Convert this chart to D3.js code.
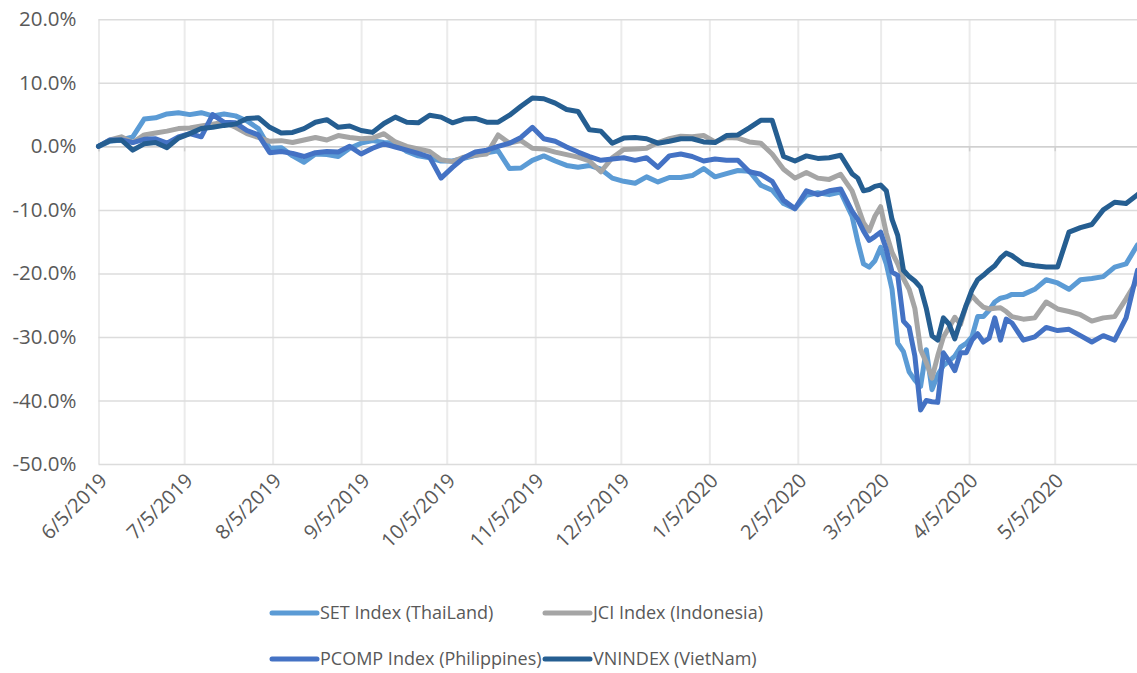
<!DOCTYPE html>
<html>
<head>
<meta charset="utf-8">
<script src="https://cdn.jsdelivr.net/npm/d3@7"></script>
<style>
  html, body { margin: 0; padding: 0; background: #fff; }
  svg { display: block; font-family: "Open Sans", sans-serif; }
</style>
</head>
<body>
<figure style="margin:0"></figure>
<script>
// trading dates sampled from the chart (every 4 days, every 2 days through the crash)
const dates = [
  "2019-06-05","2019-06-09","2019-06-13","2019-06-17","2019-06-21","2019-06-25","2019-06-29","2019-07-03",
  "2019-07-07","2019-07-11","2019-07-15","2019-07-19","2019-07-23","2019-07-27","2019-07-31","2019-08-04",
  "2019-08-08","2019-08-12","2019-08-16","2019-08-20","2019-08-24","2019-08-28","2019-09-01","2019-09-05",
  "2019-09-09","2019-09-13","2019-09-17","2019-09-21","2019-09-25","2019-09-29","2019-10-03","2019-10-07",
  "2019-10-11","2019-10-15","2019-10-19","2019-10-23","2019-10-27","2019-10-31","2019-11-04","2019-11-08",
  "2019-11-12","2019-11-16","2019-11-20","2019-11-24","2019-11-28","2019-12-02","2019-12-06","2019-12-10",
  "2019-12-14","2019-12-18","2019-12-22","2019-12-26","2019-12-30","2020-01-03","2020-01-07","2020-01-11",
  "2020-01-15","2020-01-19","2020-01-23","2020-01-27","2020-01-31","2020-02-04","2020-02-08","2020-02-12",
  "2020-02-16","2020-02-20",
  "2020-02-24","2020-02-26","2020-02-28","2020-03-01","2020-03-03","2020-03-05","2020-03-07","2020-03-09",
  "2020-03-11","2020-03-13","2020-03-15","2020-03-17","2020-03-19","2020-03-21","2020-03-23","2020-03-25",
  "2020-03-27","2020-03-29","2020-03-31","2020-04-02","2020-04-04","2020-04-06","2020-04-08","2020-04-10",
  "2020-04-12","2020-04-14","2020-04-16","2020-04-18","2020-04-20",
  "2020-04-24","2020-04-28","2020-05-02","2020-05-06","2020-05-10","2020-05-14","2020-05-18","2020-05-22",
  "2020-05-26","2020-05-30","2020-06-03"
];

// cumulative return, %
const setIndex = [
  0, 0.8, 1.0, 1.5, 4.3, 4.5, 5.1, 5.3, 5.0, 5.3, 4.8, 5.1, 4.8, 4.0, 2.8, -0.3,
  -0.2, -1.5, -2.5, -1.2, -1.3, -1.6, -0.3, 0.5, 0.9, 0.6, 0.5, -0.8, -1.5, -1.8, -2.3, -2.3,
  -1.9, -1.4, -1.0, -0.7, -3.5, -3.4, -2.2, -1.5, -2.3, -3.0, -3.3, -3.0, -3.6, -5.0, -5.5, -5.8,
  -4.8, -5.6, -4.9, -4.9, -4.6, -3.5, -4.8, -4.3, -3.8, -3.9, -6.1, -6.9, -9.0, -9.8, -7.7, -7.3,
  -7.6, -7.2,
  -11.0, -15.0, -18.5, -19.0, -18.0, -15.9, -18.5, -22.5, -31.0, -32.3, -35.5, -36.8, -37.8, -32.0,
  -38.3, -36.0, -34.5, -33.8, -33.0, -31.6, -31.0, -30.0, -26.8, -26.8, -25.8, -24.5, -23.9, -23.7, -23.3,
  -23.3, -22.5, -21.0, -21.5, -22.5, -21.0, -20.8, -20.5, -19.0, -18.5, -15.5
];
const jciIndex = [
  0, 1.0, 1.5, 0.6, 1.8, 2.1, 2.4, 2.8, 2.9, 3.2, 3.5, 3.8, 3.0, 2.0, 1.4, 0.8,
  0.9, 0.6, 1.0, 1.4, 1.0, 1.7, 1.4, 1.2, 1.3, 2.0, 0.7, 0.0, -0.4, -0.8, -2.1, -2.4,
  -1.7, -1.4, -1.2, 1.8, 0.5, 0.9, -0.3, -0.4, -0.9, -1.3, -1.7, -2.3, -4.0, -1.8, -0.5, -0.4,
  -0.3, 0.6, 1.2, 1.6, 1.5, 1.7, 0.7, 1.4, 1.3, 0.7, 0.5, -1.2, -3.6, -5.0, -4.1, -5.0,
  -5.2, -4.4,
  -7.0, -9.5, -12.0, -13.3, -11.0, -9.5, -13.7, -16.7, -18.5, -20.8, -22.5, -25.5, -32.0, -34.0,
  -36.5, -33.0, -30.0, -28.5, -26.9, -28.0, -25.0, -23.5, -24.5, -25.3, -25.6, -25.5, -25.4, -26.0, -26.8,
  -27.2, -27.0, -24.5, -25.6, -26.0, -26.5, -27.5, -27.0, -26.8, -24.0, -21.0
];
const pcompIndex = [
  0, 1.0, 1.0, 0.6, 1.1, 1.2, 0.5, 1.5, 2.0, 1.5, 5.0, 3.8, 3.7, 2.5, 1.8, -1.0,
  -0.8, -1.1, -1.6, -1.0, -0.8, -0.9, 0.0, -1.2, -0.3, 0.4, -0.1, -0.6, -1.1, -1.7, -5.0, -3.3,
  -1.8, -0.9, -0.6, 0.0, 0.5, 1.4, 3.0, 1.2, 0.8, -0.1, -0.9, -1.6, -2.2, -2.0, -1.8, -2.2,
  -1.8, -3.3, -1.5, -1.2, -1.6, -2.3, -2.0, -2.2, -2.2, -4.0, -4.4, -5.5, -8.5, -9.8, -7.0, -7.6,
  -7.0, -6.7,
  -10.2, -11.5, -13.3, -14.8, -14.2, -13.5, -16.2, -19.8, -20.3, -27.5, -28.5, -33.0, -41.5, -40.0,
  -40.2, -40.3, -32.5, -33.8, -35.3, -32.5, -32.5, -30.5, -29.5, -30.8, -30.2, -27.0, -30.5, -27.2, -27.8,
  -30.5, -30.0, -28.5, -29.0, -28.8, -29.8, -30.8, -29.8, -30.5, -27.0, -19.5
];
const vnIndex = [
  0, 0.9, 1.0, -0.6, 0.4, 0.6, -0.2, 1.3, 2.0, 2.8, 3.0, 3.3, 3.5, 4.4, 4.5, 3.0,
  2.1, 2.2, 2.8, 3.8, 4.2, 3.0, 3.2, 2.5, 2.2, 3.6, 4.6, 3.8, 3.7, 4.9, 4.6, 3.7,
  4.3, 4.4, 3.8, 3.8, 4.9, 6.3, 7.6, 7.5, 6.8, 5.8, 5.5, 2.6, 2.4, 0.5, 1.3, 1.4,
  1.2, 0.5, 0.8, 1.2, 1.2, 0.7, 0.6, 1.7, 1.8, 2.9, 4.1, 4.1, -1.6, -2.3, -1.5, -1.9,
  -1.8, -1.4,
  -4.3, -5.0, -7.0, -6.8, -6.3, -6.1, -7.0, -11.5, -14.0, -19.5, -20.5, -21.2, -22.2, -25.5,
  -29.8, -30.5, -27.0, -28.0, -30.3, -27.5, -25.0, -22.6, -21.0, -20.3, -19.5, -18.8, -17.6, -16.8, -17.2,
  -18.5, -18.8, -19.0, -19.0, -13.5, -12.8, -12.3, -10.0, -8.8, -9.0, -7.6
];

const seriesNames = ["SET Index (ThaiLand)", "JCI Index (Indonesia)", "PCOMP Index (Philippines)", "VNINDEX (VietNam)"];
const seriesColors = ["#5B9BD5", "#A5A5A5", "#4472C4", "#255E91"];
const seriesValues = [setIndex, jciIndex, pcompIndex, vnIndex];

const xTicks = ["2019-06-05","2019-07-05","2019-08-05","2019-09-05","2019-10-05","2019-11-05",
  "2019-12-05","2020-01-05","2020-02-05","2020-03-05","2020-04-05","2020-05-05"];
const yTicks = [20, 10, 0, -10, -20, -30, -40, -50];

const width = 1137, height = 673;
const plot = { left: 98.5, right: 1137.5, top: 19.3, bottom: 464 };

const parse = d3.timeParse("%Y-%m-%d");
const fmt = d3.timeFormat("%-m/%-d/%Y");

const svg = d3.select("figure").append("svg")
  .attr("width", width).attr("height", height);

const x = d3.scaleTime()
  .domain([parse("2019-06-05"), parse("2020-06-03")])
  .range([plot.left, plot.right]);

const y = d3.scaleLinear()
  .domain([-50, 20])
  .range([plot.bottom, plot.top]);

// vertical gridlines
svg.append("g")
  .attr("transform", `translate(0,${plot.bottom})`)
  .call(d3.axisBottom(x).tickValues(xTicks.map(parse)).tickSize(-(plot.bottom - plot.top)).tickFormat(""))
  .call(g => g.select(".domain").remove())
  .call(g => g.selectAll("line").attr("stroke", "#ebebeb").attr("stroke-width", 2));

// horizontal gridlines
svg.append("g")
  .attr("transform", `translate(${plot.left},0)`)
  .call(d3.axisLeft(y).tickValues(yTicks).tickSize(-(plot.right - plot.left)).tickFormat(""))
  .call(g => g.select(".domain").remove())
  .call(g => g.selectAll("line").attr("stroke", "#dcdcdc").attr("stroke-width", 1.5));

// category axis crosses at 0% with small tick marks
svg.append("g")
  .attr("transform", `translate(0,${y(0)})`)
  .call(d3.axisBottom(x).tickValues(xTicks.map(parse)).tickSize(5).tickFormat(""))
  .call(g => g.select(".domain").attr("stroke", "#d0d0d0").attr("stroke-width", 1.5))
  .call(g => g.selectAll("line").attr("stroke", "#d0d0d0").attr("stroke-width", 1.5));

// y labels
svg.append("g")
  .attr("transform", `translate(${plot.left - 22},0)`)
  .call(d3.axisLeft(y).tickValues(yTicks).tickSize(0).tickPadding(0).tickFormat(d => d.toFixed(1) + "%"))
  .call(g => g.select(".domain").remove())
  .call(g => g.selectAll("text")
    .attr("fill", "#595959")
    .style("font-size", "20.5px")
    .style("font-family", "'Open Sans', sans-serif"));

// x labels, rotated, at the bottom
svg.append("g")
  .selectAll("text")
  .data(xTicks)
  .enter()
  .append("text")
  .attr("transform", d => `translate(${x(parse(d)) + 5},${plot.bottom + 13}) rotate(-45)`)
  .attr("text-anchor", "end")
  .attr("dy", "0.35em")
  .attr("fill", "#595959")
  .style("font-size", "20px")
  .text(d => fmt(parse(d)));

// lines
const line = d3.line()
  .x((d, i) => x(parse(dates[i])))
  .y(d => y(d));

svg.append("g")
  .selectAll("path")
  .data(seriesValues)
  .enter()
  .append("path")
  .attr("d", d => line(d))
  .attr("fill", "none")
  .attr("stroke", (d, i) => seriesColors[i])
  .attr("stroke-width", 5)
  .attr("stroke-linejoin", "round")
  .attr("stroke-linecap", "round");

// legend
const legendPos = [[272, 613], [545, 613], [272, 659], [545, 659]];
const legend = svg.append("g")
  .selectAll("g")
  .data(seriesNames)
  .enter()
  .append("g")
  .attr("transform", (d, i) => `translate(${legendPos[i][0]},${legendPos[i][1]})`);

legend.append("line")
  .attr("x1", 0).attr("x2", 45)
  .attr("stroke", (d, i) => seriesColors[i])
  .attr("stroke-width", 5)
  .attr("stroke-linecap", "round");

legend.append("text")
  .attr("x", 48)
  .attr("dy", "0.35em")
  .attr("fill", "#595959")
  .style("font-size", "18px")
  .text(d => d);
</script>
</body>
</html>
